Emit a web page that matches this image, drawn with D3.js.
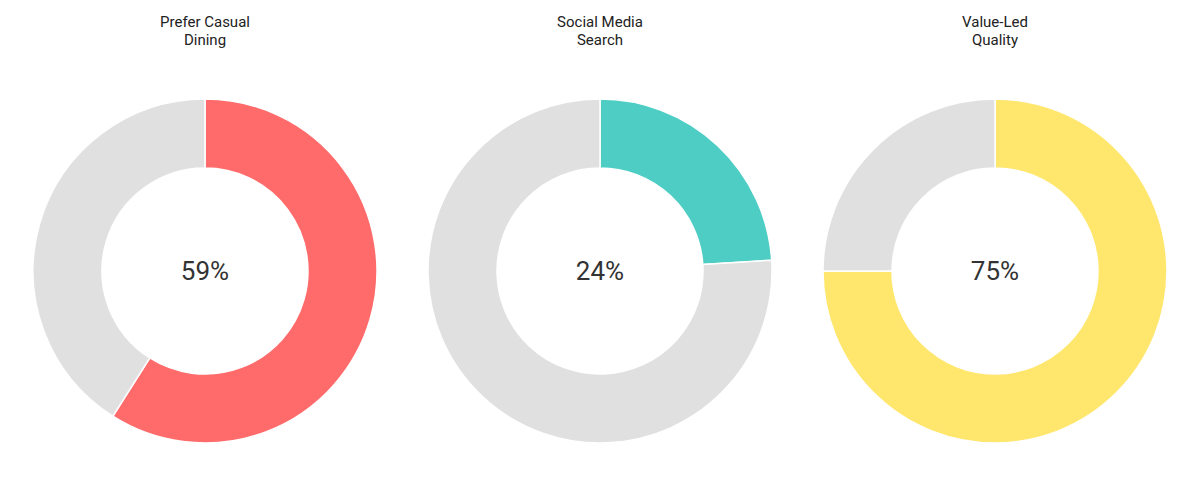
<!DOCTYPE html>
<html>
<head>
<meta charset="utf-8">
<script src="https://cdn.jsdelivr.net/npm/d3@7"></script>
<style>
body{margin:0;background:#fff;}
</style>
</head>
<body>
<svg id="chart" width="1200" height="500"></svg>
<script>
var titles = [["Prefer Casual", "Dining"], ["Social Media", "Search"], ["Value-Led", "Quality"]]
var values = [59, 24, 75]
var colors = ["#FF6B6B", "#4ECDC4", "#FFE66D"]
var restColor = "#E0E0E0"

var svg = d3.select("#chart")
var x = d3.scalePoint().domain(d3.range(values.length)).range([205, 995])
var pie = d3.pie().sort(null).value(function(d){ return d.v })
var arc = d3.arc().innerRadius(103).outerRadius(172)

values.forEach(function(v, i){
    var g = svg.append("g").attr("transform", "translate(" + x(i) + ",271)")
    g.selectAll("path")
        .data(pie([{v: v, c: colors[i]}, {v: 100 - v, c: restColor}]))
        .enter()
        .append("path")
        .attr("d", arc)
        .attr("fill", function(d){ return d.data.c })
        .attr("stroke", "#fff")
        .attr("stroke-width", 1.5)
    g.append("text")
        .attr("text-anchor", "middle")
        .attr("dy", "0.35em")
        .attr("font-family", "Roboto, sans-serif")
        .attr("font-size", 26)
        .attr("fill", "#333")
        .text(v + "%")
    svg.append("text")
        .attr("x", x(i))
        .attr("y", 27)
        .attr("text-anchor", "middle")
        .attr("font-family", "Roboto, sans-serif")
        .attr("font-size", 15)
        .attr("fill", "#222")
        .selectAll("tspan")
        .data(titles[i])
        .enter()
        .append("tspan")
        .attr("x", x(i))
        .attr("dy", function(d, j){ return j ? 18 : 0 })
        .text(function(d){ return d })
})
</script>
</body>
</html>
